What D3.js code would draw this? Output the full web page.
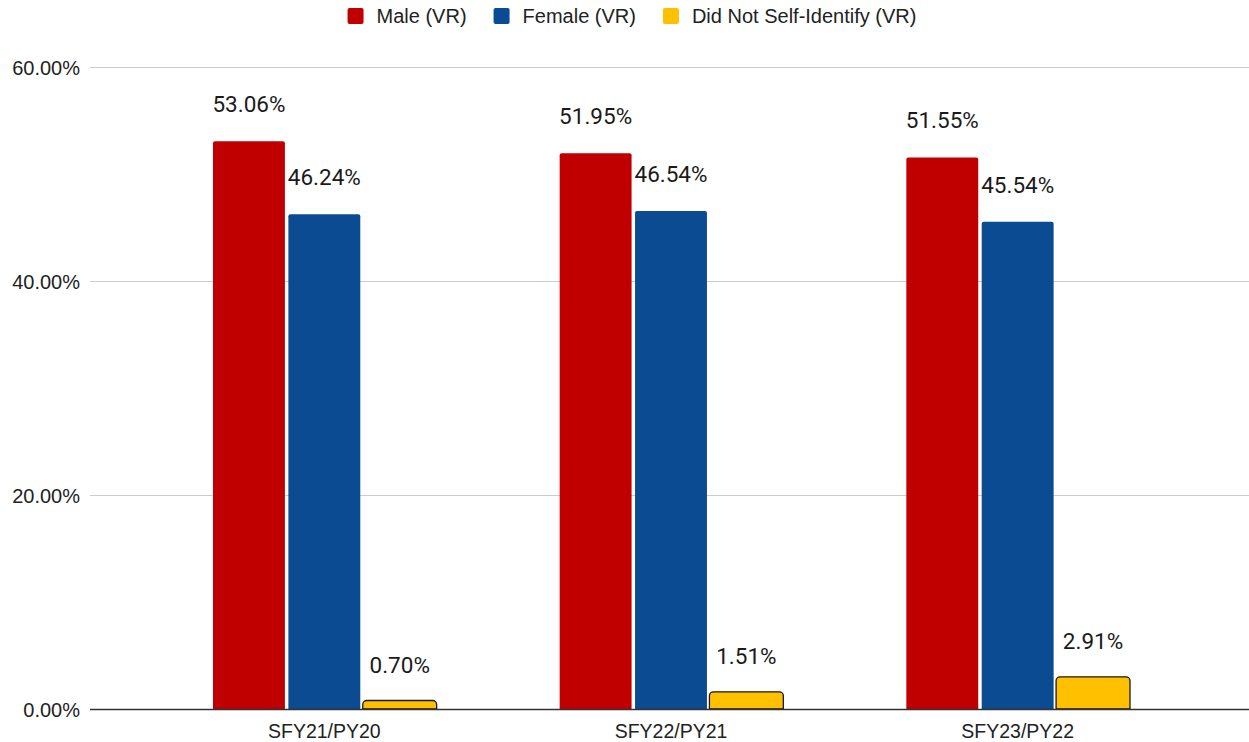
<!DOCTYPE html>
<html>
<head>
<meta charset="utf-8">
<script src="https://cdn.jsdelivr.net/npm/d3@7"></script>
<style>
  html, body { margin: 0; padding: 0; background: #fff; }
  svg { display: block; }
</style>
</head>
<body>
<svg id="chart" width="1249" height="742"></svg>
<script>
// Program years on the x axis
const categories = ["SFY21/PY20", "SFY22/PY21", "SFY23/PY22"];
// Series names shown in the legend
const seriesNames = ["Male (VR)", "Female (VR)", "Did Not Self-Identify (VR)"];
// Share of participants per series (percent), one value per program year
const maleValues = [53.06, 51.95, 51.55];
const femaleValues = [46.24, 46.54, 45.54];
const didNotSelfIdentifyValues = [0.70, 1.51, 2.91];
// Y axis ticks
const yTicks = [0, 20, 40, 60];

const seriesValues = [maleValues, femaleValues, didNotSelfIdentifyValues];
const colors = ["#c00000", "#0a4b92", "#ffc000"];

const W = 1249, H = 742;
const plot = { left: 90, right: 1249, top: 67, bottom: 709 };
const axisFont = "'Liberation Sans', Arial, sans-serif";

const svg = d3.select("#chart");

const y = d3.scaleLinear().domain([0, 60]).range([plot.bottom, plot.top]);
const x0 = d3.scaleBand().domain(categories).range([151, 1191]).padding(0);
const groupPad = 62;
const x1 = d3.scaleBand().domain(d3.range(seriesNames.length))
  .range([groupPad, x0.bandwidth() - groupPad]).paddingInner(0.046);

// Rectangle with rounded top corners only
function topRounded(x, yTop, w, h, r) {
  r = Math.min(r, h, w / 2);
  const p = d3.path();
  p.moveTo(x, yTop + h);
  p.lineTo(x, yTop + r);
  p.arcTo(x, yTop, x + r, yTop, r);
  p.lineTo(x + w - r, yTop);
  p.arcTo(x + w, yTop, x + w, yTop + r, r);
  p.lineTo(x + w, yTop + h);
  p.closePath();
  return p.toString();
}

// Gridlines
svg.append("g").selectAll("line").data(yTicks.filter(d => d !== 0)).join("line")
  .attr("x1", plot.left).attr("x2", plot.right)
  .attr("y1", d => Math.round(y(d)) + 0.5).attr("y2", d => Math.round(y(d)) + 0.5)
  .attr("stroke", "#cccccc").attr("stroke-width", 1);

// Y axis labels
const yAxis = d3.axisLeft(y).tickValues(yTicks).tickSize(0).tickPadding(0)
  .tickFormat(d => d.toFixed(2) + "%");
svg.append("g").attr("transform", `translate(${plot.left - 10},0)`).call(yAxis)
  .call(g => g.select(".domain").remove())
  .call(g => g.selectAll("text")
    .attr("font-family", axisFont)
    .attr("font-size", 20).attr("fill", "#222").attr("dy", "0.36em"));

// Bars with value labels
const groups = svg.append("g").selectAll("g").data(categories).join("g")
  .attr("transform", d => `translate(${x0(d)},0)`);

groups.each(function (c, ci) {
  const g = d3.select(this);
  const data = seriesValues.map((vals, si) => ({ si, v: vals[ci] }));
  g.selectAll("path").data(data).join("path")
    .attr("d", d => {
      const outlined = d.si === 2;
      const grow = outlined ? 1 : 0;
      const top = y(d.v) - grow;
      return topRounded(x1(d.si) - grow, top, x1.bandwidth() + 2 * grow,
        plot.bottom - top, outlined ? 4 : 2);
    })
    .attr("fill", d => colors[d.si])
    .attr("stroke", d => d.si === 2 ? "#1a1a1a" : "none")
    .attr("stroke-width", 1.3);
  g.selectAll("text").data(data).join("text")
    .attr("x", d => x1(d.si) + x1.bandwidth() / 2)
    .attr("y", d => y(d.v) - 29)
    .attr("text-anchor", "middle")
    .attr("font-family", "Roboto, sans-serif")
    .attr("font-size", 22.5)
    .attr("fill", "#1a1a1a")
    .text(d => d.v.toFixed(2) + "%");
});

// Baseline
svg.append("line").attr("x1", plot.left).attr("x2", plot.right)
  .attr("y1", plot.bottom + 0.5).attr("y2", plot.bottom + 0.5)
  .attr("stroke", "#333").attr("stroke-width", 1.3);

// X axis labels
const xAxis = d3.axisBottom(x0).tickSize(0).tickPadding(0);
svg.append("g").attr("transform", `translate(0,${plot.bottom})`).call(xAxis)
  .call(g => g.select(".domain").remove())
  .call(g => g.selectAll("text")
    .attr("font-family", axisFont)
    .attr("font-size", 19.5).attr("fill", "#222").attr("dy", "0").attr("y", 29));

// Legend, laid out left to right and centred above the plot
const legend = svg.append("g");
const items = legend.selectAll("g").data(seriesNames).join("g");
items.append("rect").attr("width", 16).attr("height", 16).attr("rx", 2)
  .attr("y", 8).attr("fill", (d, i) => colors[i]);
items.append("text").attr("x", 29).attr("y", 23)
  .attr("font-family", axisFont)
  .attr("font-size", 20).attr("fill", "#222").text(d => d);
const widths = [];
items.each(function () {
  widths.push(29 + d3.select(this).select("text").node().getComputedTextLength());
});
const itemGap = 27;
const total = d3.sum(widths) + itemGap * (widths.length - 1);
let startX = 632 - total / 2;
items.attr("transform", (d, i) => {
  const t = `translate(${startX},0)`;
  startX += widths[i] + itemGap;
  return t;
});
</script>
</body>
</html>
